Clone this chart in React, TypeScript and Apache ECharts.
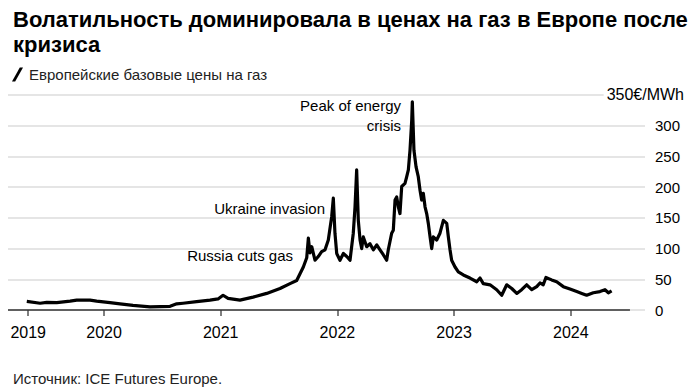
import React, { useEffect, useRef } from "react";
import * as echarts from "echarts";

// Decimal years and European benchmark gas prices (€/MWh)
const years: number[] = [
  2019.338, 2019.452, 2019.509, 2019.595, 2019.709, 2019.766, 2019.88, 2019.937,
  2020.051, 2020.137, 2020.248, 2020.394, 2020.48, 2020.566, 2020.623, 2020.677,
  2020.794, 2020.908, 2020.977, 2021.02, 2021.063, 2021.165, 2021.277, 2021.394,
  2021.508, 2021.594, 2021.651, 2021.708, 2021.737, 2021.751, 2021.765, 2021.78,
  2021.808, 2021.836, 2021.865, 2021.894, 2021.922, 2021.951, 2021.965, 2021.979,
  2021.994, 2022.022, 2022.051, 2022.08, 2022.108, 2022.136, 2022.151, 2022.165,
  2022.179, 2022.194, 2022.208, 2022.222, 2022.251, 2022.279, 2022.308, 2022.337,
  2022.365, 2022.393, 2022.422, 2022.436, 2022.465, 2022.479, 2022.494, 2022.508,
  2022.522, 2022.536, 2022.551, 2022.579, 2022.594, 2022.608, 2022.622, 2022.637,
  2022.642, 2022.656, 2022.674, 2022.693, 2022.708, 2022.722, 2022.736, 2022.751,
  2022.765, 2022.779, 2022.794, 2022.808, 2022.822, 2022.851, 2022.879, 2022.908,
  2022.937, 2022.95, 2022.965, 2022.979, 2023.008, 2023.036, 2023.079, 2023.136,
  2023.194, 2023.222, 2023.25, 2023.308, 2023.365, 2023.408, 2023.451, 2023.494,
  2023.537, 2023.579, 2023.622, 2023.665, 2023.708, 2023.736, 2023.764, 2023.787,
  2023.836, 2023.879, 2023.936, 2023.993, 2024.051, 2024.094, 2024.136, 2024.193,
  2024.25, 2024.293, 2024.322, 2024.35,
];
const prices: number[] = [
  14, 11, 12.5, 12, 14.5, 16, 16, 14.5,
  12, 10, 7.5, 5, 5.5, 6, 10, 11,
  13.5, 16, 18, 24, 19, 16, 21, 27,
  35, 43, 48, 70, 85, 117, 93, 103,
  81, 87, 95, 98, 114, 152, 182, 125,
  92, 81, 92, 87, 81, 125, 168, 228,
  146, 114, 100, 119, 103, 108, 98, 106,
  98, 90, 81, 98, 125, 130, 179, 184,
  168, 157, 201, 206, 217, 228, 260, 309,
  339, 260, 233, 217, 195, 179, 190, 168,
  157, 141, 119, 100, 119, 114, 125, 146,
  141, 120, 98, 81, 70, 62, 57, 52,
  46, 52, 43, 41, 33, 24, 41, 35,
  27, 33, 41, 33, 38, 44, 41, 53,
  49, 46, 38, 34, 30, 27, 24, 28,
  30, 33, 28, 31,
];

const yearTicks: number[] = [2019.35, 2020, 2021, 2022, 2023, 2024];
const yTicks: number[] = [0, 50, 100, 150, 200, 250, 300, 350];

const annotations = [
  { text: "Peak of energy\ncrisis", x: 2022.545, y: 316 },
  { text: "Ukraine invasion", x: 2021.894, y: 166 },
  { text: "Russia cuts gas", x: 2021.62, y: 89 },
];

const X_MIN = 2019.177;
const X_MAX = 2024.636;
const AXIS_END = 2024.507;
const FONT = "'Liberation Sans', Arial, Helvetica, sans-serif";

export default function App() {
  const ref = useRef<HTMLDivElement>(null);

  useEffect(() => {
    if (!ref.current) return;
    const chart = echarts.init(ref.current, undefined, { renderer: "svg" });
    const data = years.map((y, i) => [y, prices[i]]);
    chart.setOption({
      animation: false,
      backgroundColor: "#fff",
      textStyle: { fontFamily: FONT },
      title: [
        {
          text: "Волатильность доминировала в ценах на газ в Европе после\nкризиса",
          left: 8,
          top: 2,
          textStyle: {
            fontFamily: FONT,
            fontSize: 22,
            fontWeight: "bold",
            lineHeight: 25,
            color: "#000",
          },
        },
        {
          text: "Источник: ICE Futures Europe.",
          left: 8,
          top: 366,
          textStyle: {
            fontFamily: FONT,
            fontSize: 15,
            fontWeight: "normal",
            color: "#222",
          },
        },
      ],
      legend: {
        left: 7,
        top: 62,
        itemWidth: 11,
        itemHeight: 14,
        icon: "path://M0,14 L3.2,14 L11,0 L7.8,0 Z",
        textStyle: {
          fontFamily: FONT,
          fontSize: 15,
          color: "#222",
          padding: [0, 0, 0, 1],
        },
        data: [{ name: "Европейские базовые цены на газ", itemStyle: { color: "#000" } }],
      },
      grid: { left: 8, right: 45, top: 95, bottom: 81 },
      xAxis: {
        type: "value",
        min: X_MIN,
        max: X_MAX,
        axisLine: { show: false },
        splitLine: { show: false },
        axisTick: {
          show: true,
          customValues: yearTicks,
          length: 6,
          lineStyle: { color: "#555", width: 1.5 },
        },
        axisLabel: {
          customValues: yearTicks,
          formatter: (v: number) => String(Math.floor(v)),
          margin: 14,
          fontSize: 16,
          color: "#000",
          fontFamily: FONT,
        },
      },
      yAxis: {
        type: "value",
        position: "right",
        min: 0,
        max: 350,
        interval: 50,
        axisLine: { show: false },
        axisTick: { show: false },
        splitLine: { show: true, lineStyle: { color: "#dcdcdc", width: 1.5 } },
        axisLabel: {
          margin: 10,
          fontSize: 15,
          color: "#000",
          fontFamily: FONT,
          formatter: (v: number) => (v === yTicks[yTicks.length - 1] ? "" : String(v)),
        },
      },
      graphic: [
        {
          type: "text",
          right: 4,
          top: 85,
          z: 100,
          style: {
            text: "350€/MWh",
            fill: "#000",
            font: `16px ${FONT}`,
            backgroundColor: "#fff",
            padding: [1, 2, 1, 3],
          },
        },
      ],
      series: [
        {
          name: "Европейские базовые цены на газ",
          type: "line",
          data,
          showSymbol: false,
          symbol: "none",
          lineStyle: { color: "#000", width: 3.2, join: "round" },
          itemStyle: { color: "#000" },
          z: 5,
          markLine: {
            silent: true,
            symbol: "none",
            label: { show: false },
            lineStyle: { color: "#333", width: 1.5, type: "solid" },
            data: [[{ coord: [X_MIN, 0] }, { coord: [AXIS_END, 0] }]],
          },
          markPoint: {
            silent: true,
            symbol: "circle",
            symbolSize: 0,
            itemStyle: { color: "transparent" },
            label: {
              show: true,
              position: [0, 0],
              align: "right",
              verticalAlign: "middle",
              fontFamily: FONT,
              fontSize: 15,
              lineHeight: 20,
              color: "#000",
              formatter: (p: any) => p.name,
            },
            data: annotations.map((a) => ({ name: a.text, coord: [a.x, a.y] })),
          },
        },
      ],
    });
    return () => chart.dispose();
  }, []);

  return (
    <div
      ref={ref}
      style={{ position: "fixed", left: 0, top: 0, width: 690, height: 391 }}
    />
  );
}
